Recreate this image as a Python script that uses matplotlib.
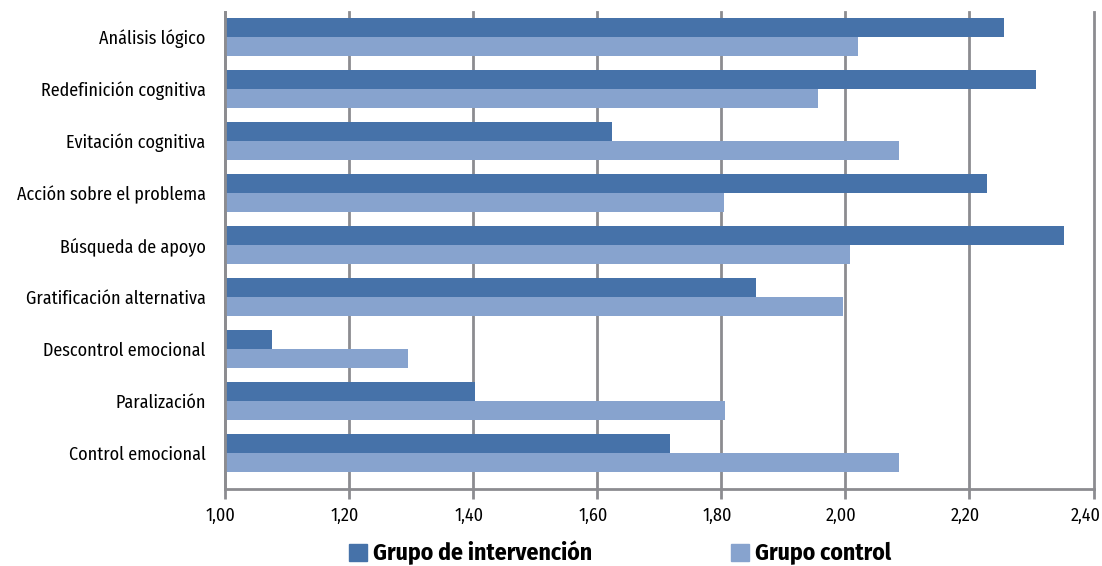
import matplotlib
matplotlib.use('Agg')
import matplotlib.pyplot as plt
import matplotlib.transforms as mtransforms
from matplotlib.patches import Patch
import numpy as np

# estrategias de afrontamiento, medias por grupo
categorias = ['Análisis lógico', 'Redefinición cognitiva', 'Evitación cognitiva',
              'Acción sobre el problema', 'Búsqueda de apoyo', 'Gratificación alternativa',
              'Descontrol emocional', 'Paralización', 'Control emocional']
intervencion = [2.256, 2.307, 1.624, 2.228, 2.352, 1.857, 1.077, 1.403, 1.717]
control = [2.020, 1.956, 2.086, 1.804, 2.007, 1.997, 1.296, 1.806, 2.086]
ticks_x = [1.0, 1.2, 1.4, 1.6, 1.8, 2.0, 2.2, 2.4]

plt.rcParams['font.family'] = ['Fira Sans Condensed', 'Roboto Condensed', 'Lato', 'DejaVu Sans']

color_int = '#4672a9'
color_ctl = '#87a3ce'
gris = '#8c8c90'

fig = plt.figure(figsize=(11.02, 5.66), dpi=100)
ax = fig.add_axes([224.5/1102, 1-489/566, (1093.5-224.5)/1102, (489-12)/566])

y = np.arange(len(categorias))
h = 0.365
base = 1.0
ax.barh(y - h/2, np.array(intervencion) - base, left=base, height=h, color=color_int, zorder=3)
ax.barh(y + h/2, np.array(control) - base, left=base, height=h, color=color_ctl, zorder=3)

ax.set_xlim(1.0, 2.4)
ax.set_ylim(8.692, -0.481)
ax.set_xticks(ticks_x)
ax.set_xticklabels([('%.2f' % t).replace('.', ',') for t in ticks_x], fontsize=13)
ax.set_yticks(y)
ax.set_yticklabels(categorias, fontsize=13)
ax.tick_params(axis='y', length=0, pad=13.5)
ax.tick_params(axis='x', length=7, width=2, color=gris, pad=6, direction='out')

# etiquetas del eje x algo desplazadas a la izquierda; la última alineada a la derecha
for i, lab in enumerate(ax.get_xticklabels()):
    dx = -3 / 72 if i < len(ticks_x) - 1 else 5 / 72
    lab.set_transform(lab.get_transform() + mtransforms.ScaledTranslation(dx, 0, fig.dpi_scale_trans))
    if i == len(ticks_x) - 1:
        lab.set_horizontalalignment('right')

ax.grid(axis='x', color=gris, linewidth=2, zorder=0)
for gl in ax.get_xgridlines():
    gl.set_clip_on(False)
ax.set_axisbelow(True)
for s in ['top', 'right']:
    ax.spines[s].set_visible(False)
for s in ['left', 'bottom']:
    ax.spines[s].set_color(gris)
    ax.spines[s].set_linewidth(2)
    ax.spines[s].set_zorder(4)

handles = [Patch(color=color_int, label='Grupo de intervención'),
           Patch(color=color_ctl, label='Grupo control')]
fig.legend(handles=handles, loc='center', bbox_to_anchor=(0.5626, 1-553/566), ncol=2,
           frameon=False, prop={'size': 17, 'weight': 'bold'},
           handlelength=0.75, handleheight=0.75, handletextpad=0.25, columnspacing=5.9)

fig.savefig('out.png', dpi=100)
